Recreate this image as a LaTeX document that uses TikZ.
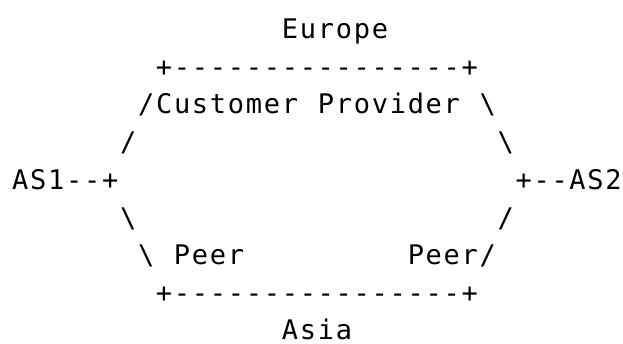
\documentclass[tikz,border=0pt]{standalone}
\usepackage{fontspec}
\newfontfamily\asciimono{DejaVu Sans Mono}
% fixed character cell, so every glyph sits on the text grid
\newlength\cellw
\setlength\cellw{17.98pt}
\makeatletter
\def\cells#1{\cells@i#1\@nil}
\def\cells@i#1{\ifx#1\@nil\else\makebox[\cellw][c]{#1}\expandafter\cells@i\fi}
\makeatother
\begin{document}
\begin{tikzpicture}[x=1pt,y=1pt,
  txt/.style={anchor=base west, inner sep=0pt,
    font=\asciimono\fontsize{27}{32}\selectfont}]
\useasboundingbox (0,0) rectangle (623,343);
% row 0
\node[txt] (europe) at (280.8,304.5) {\cells{Europe}};
% row 1
\node[txt] (topbar) at (154.9,266.8) {\cells{+----------------+}};
% row 2
\node[txt] (custsl) at (137.0,229.1) {\cells{/Customer}};
\node[txt] (prov)   at (316.8,229.1) {\cells{Provider}};
\node[txt] (provbs) at (478.6,229.1) {\cells{\textbackslash}};
% row 3
\node[txt] (ulsl) at (119.0,191.4) {\cells{/}};
\node[txt] (urbs) at (496.6,191.4) {\cells{\textbackslash}};
% row 4
\node[txt] (as1) at (11.1,153.7)  {\cells{AS1--+}};
\node[txt] (as2) at (514.5,153.7) {\cells{+--AS2}};
% row 5
\node[txt] (llbs) at (119.0,116.0) {\cells{\textbackslash}};
\node[txt] (lrsl) at (496.6,116.0) {\cells{/}};
% row 6
\node[txt] (peerbs) at (137.0,78.3) {\cells{\textbackslash}};
\node[txt] (peerl)  at (172.9,78.3) {\cells{Peer}};
\node[txt] (peerr)  at (406.7,78.3) {\cells{Peer/}};
% row 7
\node[txt] (botbar) at (154.9,40.6) {\cells{+----------------+}};
% row 8
\node[txt] (asia) at (280.8,3.6) {\cells{Asia}};
\end{tikzpicture}
\end{document}
